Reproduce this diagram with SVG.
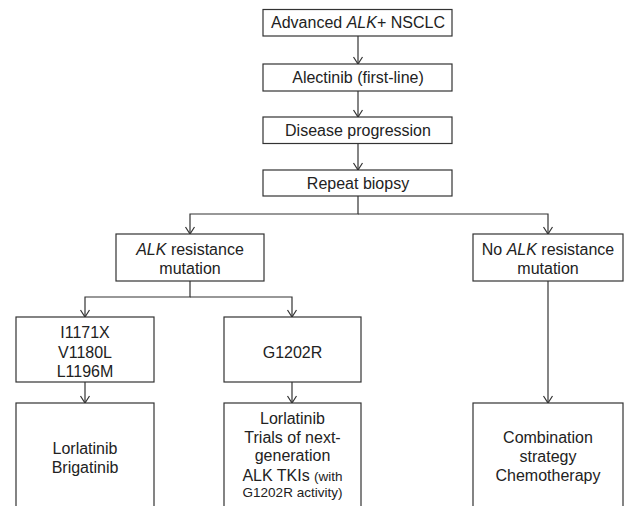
<svg xmlns="http://www.w3.org/2000/svg" width="624" height="506" viewBox="0 0 624 506">
<style>
.box{fill:#fff;stroke:#333;stroke-width:1.2}
.t{font-family:"Liberation Sans",Arial,sans-serif;font-size:16px;fill:#222;text-anchor:middle}
.s{font-size:13.5px}
.i{font-style:italic}
.c{fill:none;stroke:#333;stroke-width:1.2}
</style>
<defs>
<marker id="arr" viewBox="-9 -6 10 12" refX="0" refY="0" markerWidth="10" markerHeight="12" markerUnits="userSpaceOnUse" orient="auto">
<path d="M -7 -4.5 L 0 0 L -7 4.5" fill="none" stroke="#333" stroke-width="1.2"/>
</marker>
</defs>
<rect width="624" height="506" fill="#fff"/>
<g id="connectors">
<path class="c" d="M358 36 V64" marker-end="url(#arr)"/>
<path class="c" d="M358 91 V117" marker-end="url(#arr)"/>
<path class="c" d="M358 143 V170" marker-end="url(#arr)"/>
<path class="c" d="M358 196 V214 H190 V234" marker-end="url(#arr)"/>
<path class="c" d="M358 214 H548 V234" marker-end="url(#arr)"/>
<path class="c" d="M190 281 V297 H85 V317" marker-end="url(#arr)"/>
<path class="c" d="M190 297 H292 V317" marker-end="url(#arr)"/>
<path class="c" d="M85 382 V403" marker-end="url(#arr)"/>
<path class="c" d="M292 382 V403" marker-end="url(#arr)"/>
<path class="c" d="M548 281 V403" marker-end="url(#arr)"/>
</g>
<g id="n1"><rect class="box" x="263" y="9.5" width="189" height="26.5"/><text class="t" x="358" y="28">Advanced <tspan class="i">ALK</tspan>+ NSCLC</text></g>
<g id="n2"><rect class="box" x="263" y="64" width="189" height="27"/><text class="t" x="358" y="83">Alectinib (first-line)</text></g>
<g id="n3"><rect class="box" x="263" y="117" width="189" height="26.5"/><text class="t" x="358" y="136">Disease progression</text></g>
<g id="n4"><rect class="box" x="263" y="170" width="189" height="26"/><text class="t" x="358" y="189">Repeat biopsy</text></g>
<g id="n5"><rect class="box" x="116" y="234" width="148" height="47"/><text class="t" x="190" y="255"><tspan class="i">ALK</tspan> resistance</text><text class="t" x="190" y="274">mutation</text></g>
<g id="n6"><rect class="box" x="473" y="234" width="150" height="47"/><text class="t" x="548" y="255">No <tspan class="i">ALK</tspan> resistance</text><text class="t" x="548" y="274">mutation</text></g>
<g id="n7"><rect class="box" x="16" y="317" width="138" height="65"/><text class="t" x="85" y="338">I1171X</text><text class="t" x="85" y="357.5">V1180L</text><text class="t" x="85" y="377">L1196M</text></g>
<g id="n8"><rect class="box" x="224" y="317" width="137" height="65"/><text class="t" x="292.5" y="358">G1202R</text></g>
<g id="n9"><rect class="box" x="16" y="403" width="138" height="110"/><text class="t" x="85" y="454">Lorlatinib</text><text class="t" x="85" y="473">Brigatinib</text></g>
<g id="n10"><rect class="box" x="224" y="403" width="137" height="110"/><text class="t" x="292.5" y="424">Lorlatinib</text><text class="t" x="292.5" y="443">Trials of next-</text><text class="t" x="292.5" y="461">generation</text><text class="t" x="292.5" y="481">ALK TKIs <tspan class="s">(with</tspan></text><text class="t s" x="292.5" y="497">G1202R activity)</text></g>
<g id="n11"><rect class="box" x="473" y="403" width="150" height="110"/><text class="t" x="548" y="443">Combination</text><text class="t" x="548" y="462">strategy</text><text class="t" x="548" y="481">Chemotherapy</text></g>
</svg>
